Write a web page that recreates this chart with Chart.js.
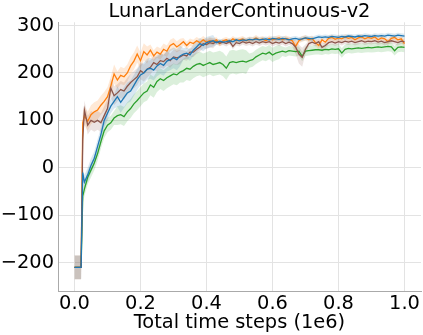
<!DOCTYPE html>
<html>
<head>
<meta charset="utf-8">
<script src="https://cdn.jsdelivr.net/npm/chart.js@4"></script>
<style>
  body { margin: 0; background: #fff; }
  #wrap { width: 423px; height: 335px; }
</style>
</head>
<body>
<div id="wrap"><canvas id="chart"></canvas></div>
<script>
// time steps (1e6)
const steps = [0, 0.01, 0.02, 0.025,
  0.03, 0.04, 0.05, 0.06, 0.07, 0.08, 0.09, 0.10, 0.11, 0.12,
  0.13, 0.14, 0.15, 0.16, 0.17, 0.18, 0.19, 0.20, 0.21, 0.22,
  0.23, 0.24, 0.25, 0.26, 0.27, 0.28, 0.29, 0.30, 0.31, 0.32,
  0.33, 0.34, 0.35, 0.36, 0.37, 0.38, 0.39, 0.40, 0.41, 0.42,
  0.43, 0.44, 0.45, 0.46, 0.47, 0.48, 0.49, 0.50, 0.51, 0.52,
  0.53, 0.54, 0.55, 0.56, 0.57, 0.58, 0.59, 0.60, 0.61, 0.62,
  0.63, 0.64, 0.65, 0.66, 0.67, 0.68, 0.69, 0.70, 0.71, 0.72,
  0.73, 0.74, 0.75, 0.76, 0.77, 0.78, 0.79, 0.80, 0.81, 0.82,
  0.83, 0.84, 0.85, 0.86, 0.87, 0.88, 0.89, 0.90, 0.91, 0.92,
  0.93, 0.94, 0.95, 0.96, 0.97, 0.98, 0.99, 1.00];

const blueMean = [-210, -210, -210, -10,
  -30, -15, 5, 20, 45, 70, 100, 115, 130, 140,
  150, 138, 148, 158, 162, 174, 186, 196, 200, 208,
  210, 206, 215, 220, 216, 225, 228, 232, 228, 236,
  240, 242, 238, 248, 255, 262, 258, 264, 266, 268,
  264, 267, 265, 266, 268, 266, 270, 268, 270, 269,
  271, 270, 272, 270, 271, 272, 270, 273, 272, 271,
  273, 272, 270, 272, 273, 271, 272, 274, 273, 272,
  274, 276, 275, 276, 275, 277, 276, 275, 277, 276,
  278, 277, 276, 278, 277, 279, 278, 277, 279, 278,
  279, 278, 280, 279, 278, 280, 279, 278];
const blueSpread = [25, 25, 25, 15,
  15, 15, 15, 15, 15, 15, 15, 15, 15, 15,
  22, 22, 22, 22, 22, 22, 22, 22, 22, 22,
  22, 22, 22, 22, 22, 22, 22, 22, 22, 22,
  12, 12, 12, 12, 12, 12, 12, 12, 12, 12,
  5, 5, 5, 5, 5, 5, 5, 5, 5, 5,
  5, 5, 5, 5, 5, 5, 5, 5, 5, 5,
  5, 5, 5, 5, 5, 5, 5, 5, 5, 5,
  5, 5, 5, 5, 5, 5, 5, 5, 5, 5,
  5, 5, 5, 5, 5, 5, 5, 5, 5, 5,
  5, 5, 5, 5, 5, 5, 5, 5];

const orangeMean = [-210, -210, -210, 95,
  110, 98, 112, 118, 122, 132, 140, 150, 172, 198,
  185, 195, 192, 200, 215, 225, 240, 226, 245, 238,
  248, 236, 244, 240, 250, 246, 258, 262, 255, 260,
  266, 258, 265, 262, 268, 264, 270, 265, 268, 266,
  270, 262, 268, 270, 266, 272, 268, 270, 272, 268,
  271, 270, 274, 270, 272, 268, 273, 270, 272, 274,
  270, 273, 271, 268, 256, 268, 272, 274, 270, 273,
  264, 258, 270, 265, 273, 275, 271, 274, 272, 276,
  273, 275, 270, 274, 276, 272, 275, 273, 276, 270,
  274, 272, 266, 273, 275, 270, 272, 262];
const orangeSpread = [25, 25, 25, 20,
  20, 20, 20, 20, 20, 20, 20, 20, 20, 20,
  18, 18, 18, 18, 18, 18, 18, 18, 18, 18,
  12, 12, 12, 12, 12, 12, 12, 12, 12, 12,
  8, 8, 8, 8, 8, 8, 8, 8, 8, 8,
  6, 6, 6, 6, 6, 6, 6, 6, 6, 6,
  6, 6, 6, 6, 6, 6, 6, 6, 6, 6,
  6, 6, 6, 6, 10, 6, 6, 6, 6, 6,
  6, 10, 6, 6, 6, 6, 6, 6, 6, 6,
  6, 6, 6, 6, 6, 6, 6, 6, 6, 6,
  6, 6, 6, 6, 6, 6, 6, 8];

const greenMean = [-210, -210, -210, -60,
  -45, -20, -5, 10, 30, 55, 78, 90, 95, 105,
  110, 112, 108, 118, 125, 135, 142, 150, 158, 162,
  175, 170, 182, 188, 184, 190, 194, 198, 196, 202,
  205, 210, 208, 214, 218, 220, 216, 219, 222, 218,
  220, 222, 218, 210, 222, 224, 222, 224, 225, 223,
  226, 228, 234, 238, 242, 240, 244, 238, 242, 244,
  246, 244, 247, 246, 245, 246, 235, 246, 247, 248,
  249, 249, 248, 250, 249, 251, 250, 251, 242, 250,
  252, 251, 252, 253, 252, 253, 254, 253, 254, 255,
  254, 255, 256, 255, 247, 254, 255, 254];
const greenSpread = [0, 0, 0, 15,
  15, 15, 15, 15, 15, 15, 15, 15, 15, 15,
  20, 20, 20, 20, 20, 20, 20, 20, 20, 20,
  22, 22, 22, 22, 22, 22, 22, 22, 22, 22,
  25, 25, 25, 25, 25, 25, 25, 25, 25, 25,
  25, 25, 25, 25, 25, 25, 25, 25, 25, 25,
  15, 15, 15, 15, 15, 15, 15, 15, 15, 15,
  10, 10, 10, 10, 10, 10, 10, 10, 10, 10,
  10, 10, 10, 10, 10, 10, 10, 10, 10, 10,
  10, 10, 10, 10, 10, 10, 10, 10, 10, 10,
  10, 10, 10, 10, 10, 10, 10, 10];

const brownMean = [-210, -210, -210, 60,
  122, 90, 100, 96, 100, 95, 110, 125, 168, 152,
  158, 165, 162, 172, 180, 186, 192, 205, 200, 208,
  212, 222, 218, 226, 224, 231, 226, 234, 232, 234,
  238, 236, 244, 244, 250, 255, 262, 260, 264, 262,
  266, 263, 265, 262, 266, 256, 264, 262, 266, 263,
  265, 262, 266, 263, 266, 264, 266, 262, 265, 263,
  266, 262, 265, 262, 255, 240, 233, 250, 262, 265,
  262, 266, 254, 258, 264, 266, 263, 266, 264, 267,
  265, 267, 264, 266, 268, 265, 267, 266, 268, 265,
  267, 264, 266, 268, 266, 264, 267, 266];
const brownSpread = [25, 25, 25, 20,
  20, 20, 20, 20, 20, 20, 20, 20, 20, 20,
  18, 18, 18, 18, 18, 18, 18, 18, 18, 18,
  15, 15, 15, 15, 15, 15, 15, 15, 15, 15,
  10, 10, 10, 10, 10, 10, 10, 10, 10, 10,
  6, 6, 6, 6, 6, 6, 6, 6, 6, 6,
  6, 6, 6, 6, 6, 6, 6, 6, 6, 6,
  6, 6, 6, 6, 15, 20, 20, 10, 6, 6,
  6, 6, 10, 6, 6, 6, 6, 6, 6, 6,
  6, 6, 6, 6, 6, 6, 6, 6, 6, 6,
  6, 6, 6, 6, 6, 6, 6, 6];

const xTicks = [0, 0.2, 0.4, 0.6, 0.8, 1.0];
const yTicks = [-200, -100, 0, 100, 200, 300];

// order: el menor se dibuja encima
const series = [
  { mean: blueMean, spread: blueSpread, color: "31,119,180", order: 0 },
  { mean: orangeMean, spread: orangeSpread, color: "255,127,14", order: 2 },
  { mean: greenMean, spread: greenSpread, color: "44,160,44", order: 3 },
  { mean: brownMean, spread: brownSpread, color: "140,86,75", order: 1 }
];

function toPoints(values) {
    return steps.map((x, i) => ({ x: x, y: values[i] }));
}

const datasets = [];
series.forEach((s) => {
    // banda sombreada: superior rellena hasta la inferior
    datasets.push({
        data: toPoints(s.mean.map((m, i) => m + s.spread[i])),
        borderWidth: 0,
        pointRadius: 0,
        backgroundColor: "rgba(" + s.color + ",0.17)",
        fill: "+1",
        order: 10 + s.order
    });
    datasets.push({
        data: toPoints(s.mean.map((m, i) => m - s.spread[i])),
        borderWidth: 0,
        pointRadius: 0,
        fill: false,
        order: 10 + s.order
    });
});
series.forEach((s) => {
    datasets.push({
        data: toPoints(s.mean),
        borderColor: "rgb(" + s.color + ")",
        borderWidth: 1.3,
        pointRadius: 0,
        fill: false,
        tension: 0,
        order: s.order
    });
});

const font = { family: "DejaVu Sans", size: 19.4 };

new Chart(document.getElementById("chart"), {
    type: "line",
    data: { datasets: datasets },
    options: {
        responsive: true,
        maintainAspectRatio: false,
        animation: false,
        layout: { padding: { left: 0, right: 2, top: 0, bottom: 0 } },
        plugins: {
            legend: { display: false },
            tooltip: { enabled: false },
            title: {
                display: true,
                text: "LunarLanderContinuous-v2",
                color: "#000",
                font: { family: "DejaVu Sans", size: 19.4, weight: "normal" },
                fullSize: false,
                padding: { top: 0, bottom: -1 }
            }
        },
        scales: {
            x: {
                type: "linear",
                min: -0.05,
                max: 1.05,
                afterBuildTicks: (scale) => { scale.ticks = xTicks.map((v) => ({ value: v })); },
                afterFit: (scale) => { scale.height = 44; },
                ticks: {
                    color: "#000",
                    font: font,
                    padding: 1,
                    maxRotation: 0,
                    callback: (v) => v.toFixed(1)
                },
                grid: { color: "#e3e3e3", drawTicks: false },
                border: { color: "#aaaaaa", width: 1 },
                title: {
                    display: true,
                    text: "Total time steps (1e6)",
                    color: "#000",
                    font: font,
                    padding: 0
                }
            },
            y: {
                min: -260,
                max: 307,
                afterBuildTicks: (scale) => { scale.ticks = yTicks.map((v) => ({ value: v })); },
                afterFit: (scale) => { scale.width = 58; },
                ticks: {
                    color: "#000",
                    font: font,
                    padding: 4,
                    callback: (v) => String(v).replace("-", "\u2212")
                },
                grid: { color: "#e3e3e3", drawTicks: false },
                border: { color: "#aaaaaa", width: 1 }
            }
        }
    }
});
</script>
</body>
</html>
